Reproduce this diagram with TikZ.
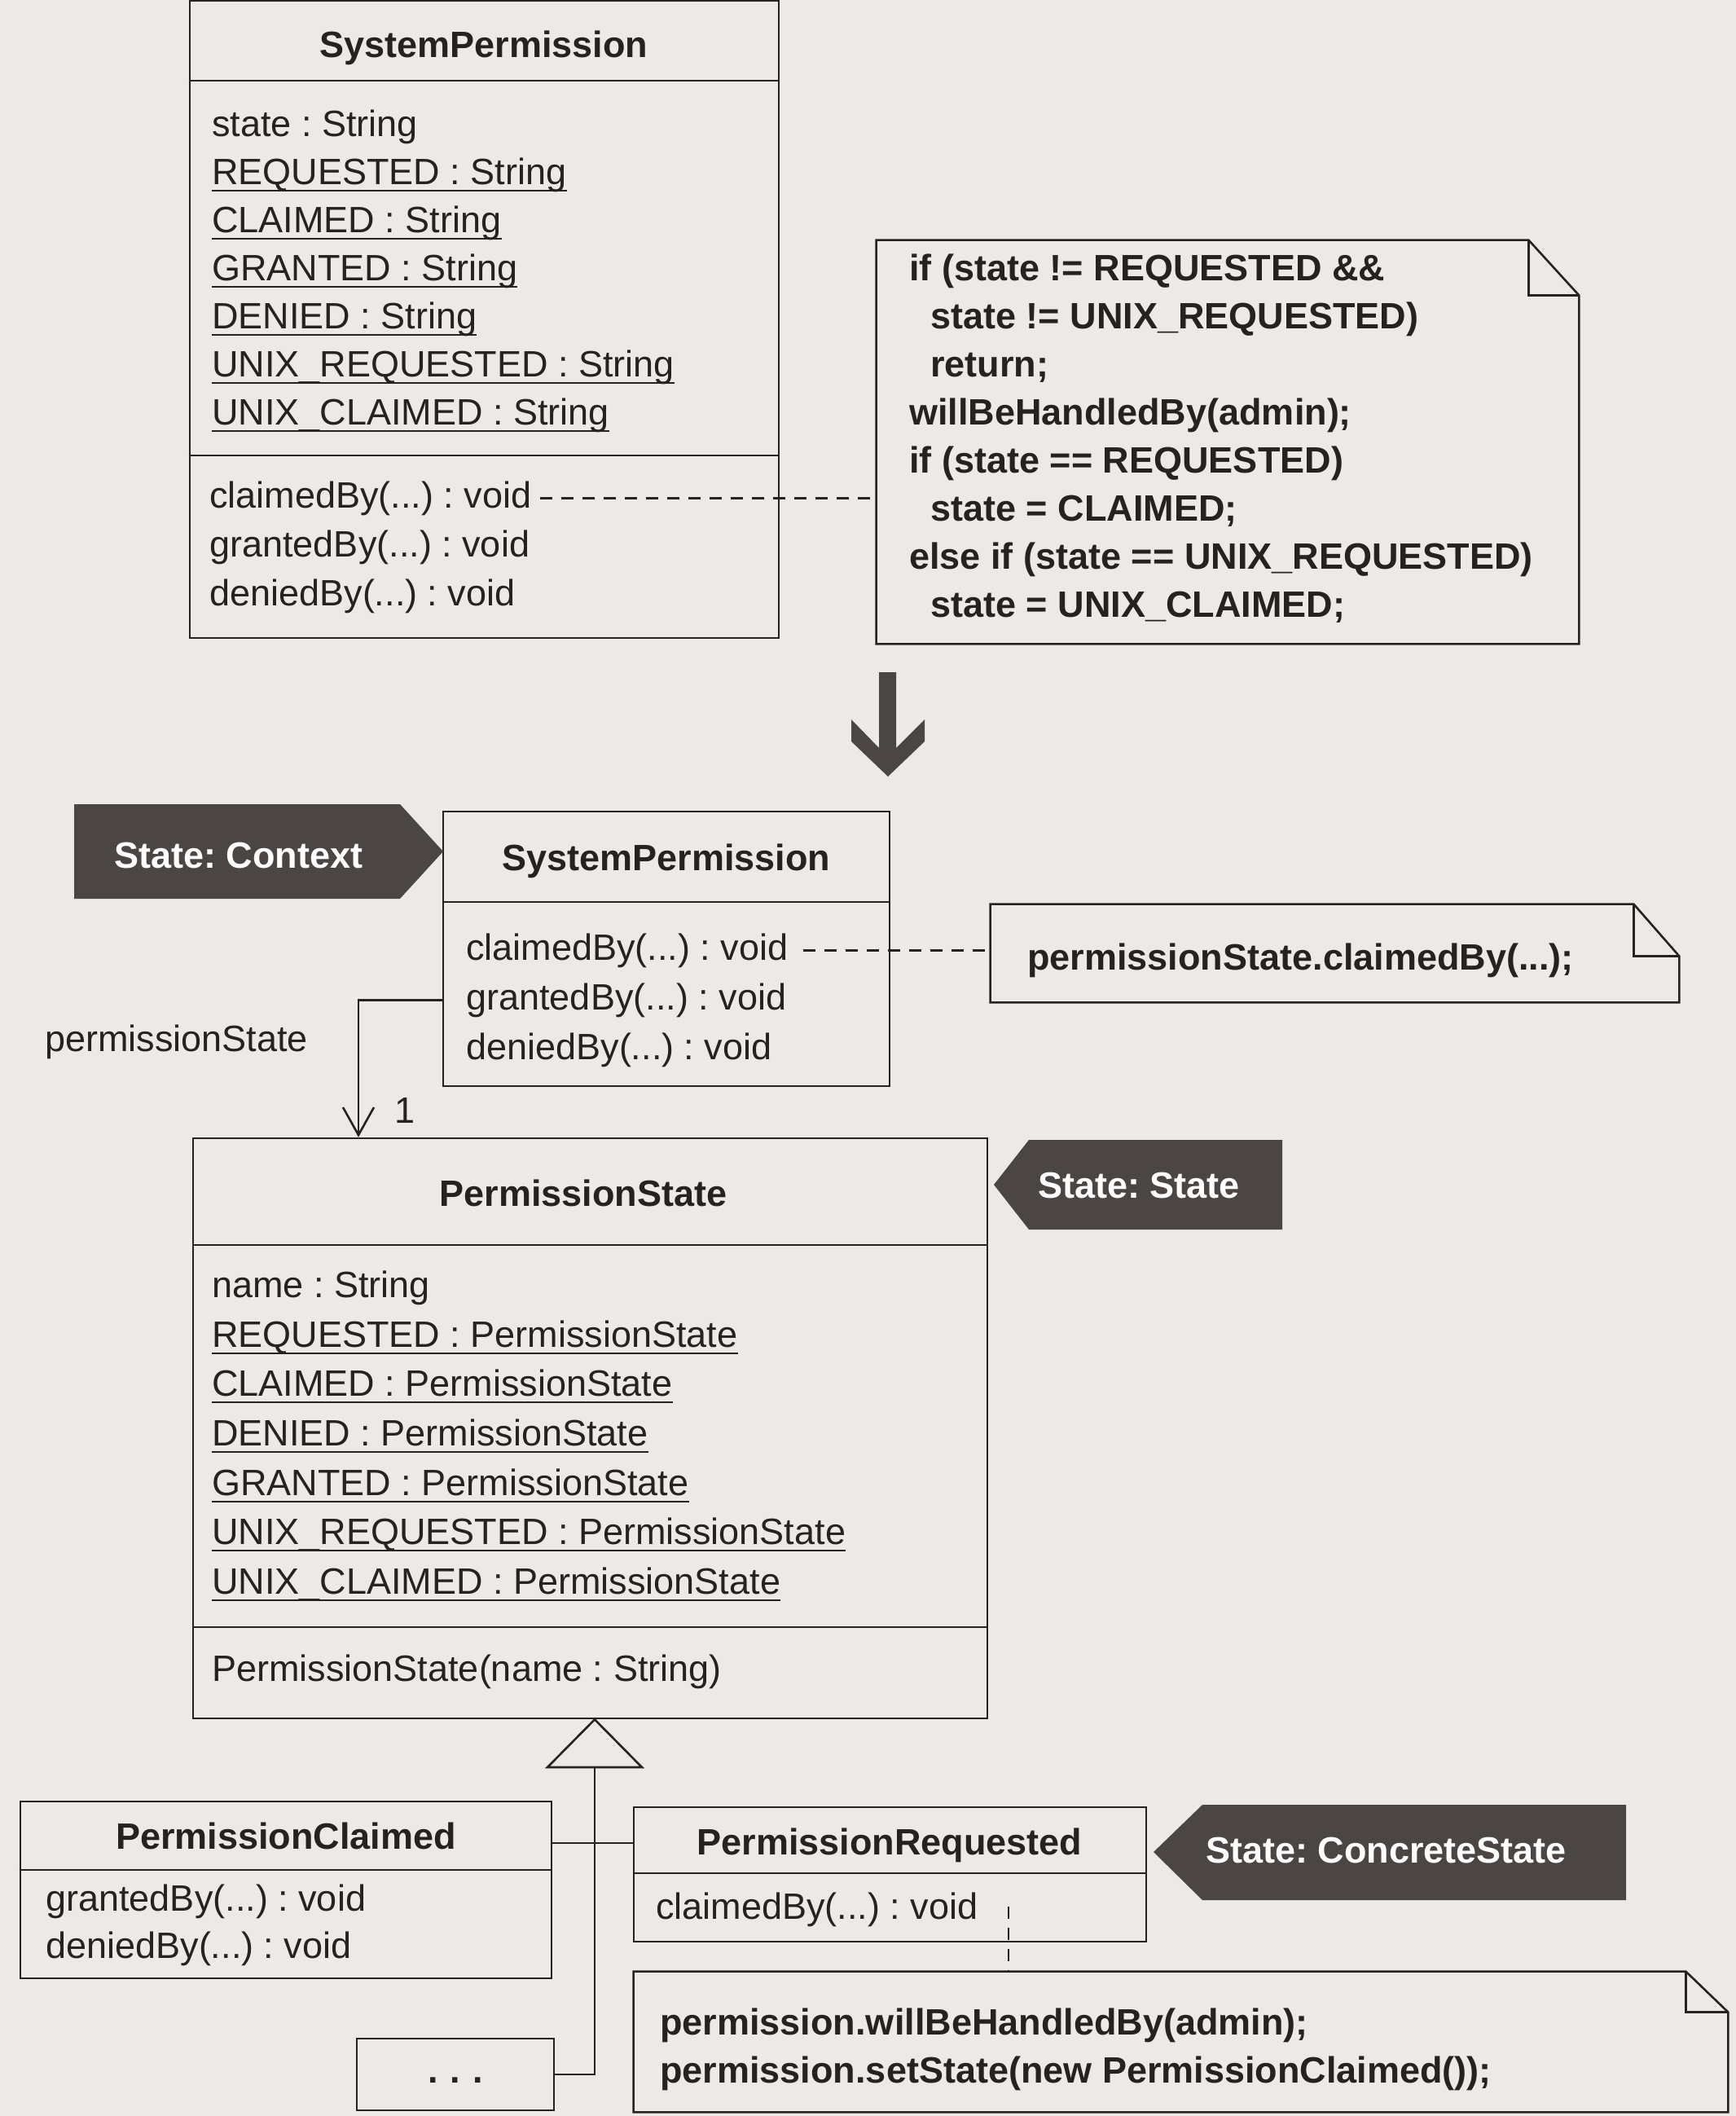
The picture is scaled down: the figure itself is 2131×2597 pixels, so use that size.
\documentclass[tikz,border=0pt]{standalone}
\usepackage{fontspec}
\setmainfont{Liberation Sans}
\usetikzlibrary{fit,arrows.meta}
\definecolor{ink}{HTML}{262220}
\definecolor{tagc}{HTML}{4B4643}
\definecolor{paper}{HTML}{ECEAE8}
\frenchspacing
\newcommand{\fs}{\fontsize{22.5pt}{29.5pt}\selectfont\frenchspacing}
\newcommand{\ulx}[1]{\setbox0=\hbox{#1}\rlap{\rule[-4.6pt]{\wd0}{1pt}}\box0}
\begin{document}
\begin{tikzpicture}[x=0.5pt,y=-0.5pt,
  txt/.style={font=\fs, inner sep=0pt, anchor=base west, text=ink},
  code/.style={font=\fs\bfseries, inner sep=0pt, anchor=base west, text=ink},
  ttl/.style={font=\fs\bfseries, inner sep=0pt, anchor=base, text=ink},
  tagtxt/.style={font=\fs\bfseries, inner sep=0pt, anchor=base west, text=white},
  boxst/.style={draw=ink, line width=1.3pt, inner sep=0pt},
  notest/.style={draw=none, inner sep=0pt},
  lnk/.style={draw=ink, line width=1.3pt},
  dsh/.style={draw=ink, line width=1.3pt, dash pattern=on 7.5pt off 5.5pt},
  tagshape/.style={fill=tagc}]
\useasboundingbox (0,0) rectangle (2131,2597);
\fill[paper] (0,0) rectangle (2131,2597);

% ---------- top SystemPermission ----------
\node[boxst, fit={(233,1) (956,783)}] (sp1) {};
\draw[lnk] (sp1.west |- 0,99) -- (sp1.east |- 0,99);
\draw[lnk] (sp1.west |- 0,559) -- (sp1.east |- 0,559);
\node[ttl] (sp1t) at (594,70) {SystemPermission};
\node[txt] (a1) at (260,167) {state : String};
\node[txt] (a2) at (260,226) {\ulx{REQUESTED : String}};
\node[txt] (a3) at (260,285) {\ulx{CLAIMED : String}};
\node[txt] (a4) at (260,344) {\ulx{GRANTED : String}};
\node[txt] (a5) at (260,403) {\ulx{DENIED : String}};
\node[txt] (a6) at (260,462) {\ulx{UNIX\_REQUESTED : String}};
\node[txt] (a7) at (260,521) {\ulx{UNIX\_CLAIMED : String}};
\node[txt] (cl1) at (257,623) {claimedBy(...) : void};
\node[txt] (gb1) at (257,683) {grantedBy(...) : void};
\node[txt] (db1) at (257,743) {deniedBy(...) : void};

% ---------- note 1 ----------
\node[notest, fit={(1076,295) (1938,790)}] (n1) {};
\draw[lnk] (n1.north west) -- ([xshift=-31pt]n1.north east) -- ([yshift=-34pt]n1.north east) -- (n1.south east) -- (n1.south west) -- cycle;
\draw[lnk] ([xshift=-31pt]n1.north east) |- ([yshift=-34pt]n1.north east);
\node[code] (c1) at (1116,344) {if (state != REQUESTED \&\&};
\node[code] (c2) at (1142,403) {state != UNIX\_REQUESTED)};
\node[code] (c3) at (1142,462) {return;};
\node[code] (c4) at (1116,521) {willBeHandledBy(admin);};
\node[code] (c5) at (1116,580) {if (state == REQUESTED)};
\node[code] (c6) at (1142,639) {state = CLAIMED;};
\node[code] (c7) at (1116,698) {else if (state == UNIX\_REQUESTED)};
\node[code] (c8) at (1142,757) {state = UNIX\_CLAIMED;};
\draw[dsh] ([xshift=5pt]cl1.east) -- (cl1.east -| n1.west);

% ---------- big arrow ----------
\fill[tagc] (1079,825) -- (1100,825) -- (1100,918) -- (1135,883) -- (1135,910) -- (1090,953) -- (1045,910) -- (1045,883) -- (1079,918) -- cycle;

% ---------- lower SystemPermission ----------
\node[boxst, fit={(544,996) (1092,1333)}] (sp2) {};
\draw[lnk] (sp2.west |- 0,1107) -- (sp2.east |- 0,1107);
\node[ttl] (sp2t) at (818,1068) {SystemPermission};
\node[txt] (cl2) at (572,1178) {claimedBy(...) : void};
\node[txt] (gb2) at (572,1239) {grantedBy(...) : void};
\node[txt] (db2) at (572,1300) {deniedBy(...) : void};

\fill[tagshape] (91,987) -- (491,987) -- (544,1045) -- (491,1103) -- (91,1103) -- cycle;
\node[tagtxt] (ctxt) at (140,1065) {State: Context};

% ---------- note 2 ----------
\node[notest, fit={(1216,1110) (2061,1230)}] (n2) {};
\draw[lnk] (n2.north west) -- ([xshift=-28pt]n2.north east) -- ([yshift=-32pt]n2.north east) -- (n2.south east) -- (n2.south west) -- cycle;
\draw[lnk] ([xshift=-28pt]n2.north east) |- ([yshift=-32pt]n2.north east);
\node[code] (c9) at (1261,1190) {permissionState.claimedBy(...);};
\draw[dsh] ([xshift=9pt]cl2.east) -- (cl2.east -| n2.west);

% ---------- association ----------
\node[txt] (psl) at (55,1290) {permissionState};
\node[txt] (mult) at (484,1378) {1};
\coordinate (bend) at (440,1000);

% ---------- PermissionState ----------
\node[boxst, fit={(237,1397) (1212,2109)}] (ps) {};
\draw[lnk] (ps.west |- 0,1528) -- (ps.east |- 0,1528);
\draw[lnk] (ps.west |- 0,1997) -- (ps.east |- 0,1997);
\node[ttl] (pst) at (716,1480) {PermissionState};
\node[txt] (b1) at (260,1592) {name : String};
\node[txt] (b2) at (260,1653) {\ulx{REQUESTED : PermissionState}};
\node[txt] (b3) at (260,1713) {\ulx{CLAIMED : PermissionState}};
\node[txt] (b4) at (260,1774) {\ulx{DENIED : PermissionState}};
\node[txt] (b5) at (260,1835) {\ulx{GRANTED : PermissionState}};
\node[txt] (b6) at (260,1895) {\ulx{UNIX\_REQUESTED : PermissionState}};
\node[txt] (b7) at (260,1956) {\ulx{UNIX\_CLAIMED : PermissionState}};
\node[txt] (b8) at (260,2063) {PermissionState(name : String)};

\draw[lnk, -{Straight Barb[length=17pt,width=19pt]}] (sp2.west |- gb2.west) -| (bend |- ps.north);

\fill[tagshape] (1220,1454) -- (1263,1399) -- (1574,1399) -- (1574,1509) -- (1263,1509) -- cycle;
\node[tagtxt] (stt) at (1274,1470) {State: State};

% ---------- subclasses ----------
\node[boxst, fit={(25,2211) (677,2428)}] (pc) {};
\draw[lnk] (pc.west |- 0,2295) -- (pc.east |- 0,2295);
\node[ttl] (pct) at (351,2269) {PermissionClaimed};
\node[txt] (gb3) at (56,2345) {grantedBy(...) : void};
\node[txt] (db3) at (56,2403) {deniedBy(...) : void};

\node[boxst, fit={(778,2218) (1407,2383)}] (pr) {};
\draw[lnk] (pr.west |- 0,2299) -- (pr.east |- 0,2299);
\node[ttl] (prt) at (1092,2276) {PermissionRequested};
\node[txt] (cl3) at (805,2355) {claimedBy(...) : void};

\node[boxst, fit={(438,2502) (680,2590)}] (dots) {};
\node[ttl] (dotst) at (559,2556) {.\,\,.\,\,.};

\fill[tagshape] (1416,2273) -- (1476,2215) -- (1996,2215) -- (1996,2332) -- (1476,2332) -- cycle;
\node[tagtxt] (cst) at (1480,2286) {State: ConcreteState};

% generalization
\coordinate (gtop) at (ps.south -| 730,0);
\coordinate (gbase) at (730,2169);
\draw[lnk, fill=paper] (gtop) -- (788,2169) -- (672,2169) -- cycle;
\draw[lnk] (gbase) |- (dots.east);
\draw[lnk] (pc.east |- 0,2262) -- (pr.west |- 0,2262);

% ---------- note 3 ----------
\node[notest, fit={(778,2420) (2121,2592)}] (n3) {};
\draw[lnk] (n3.north west) -- ([xshift=-26pt]n3.north east) -- ([yshift=-25pt]n3.north east) -- (n3.south east) -- (n3.south west) -- cycle;
\draw[lnk] ([xshift=-26pt]n3.north east) |- ([yshift=-25pt]n3.north east);
\node[code] (c10) at (810,2497) {permission.willBeHandledBy(admin);};
\node[code] (c11) at (810,2556) {permission.setState(new PermissionClaimed());};
\coordinate (d3) at (1238,2340);
\draw[dsh] (d3) -- (d3 |- n3.north);
\end{tikzpicture}
\end{document}
